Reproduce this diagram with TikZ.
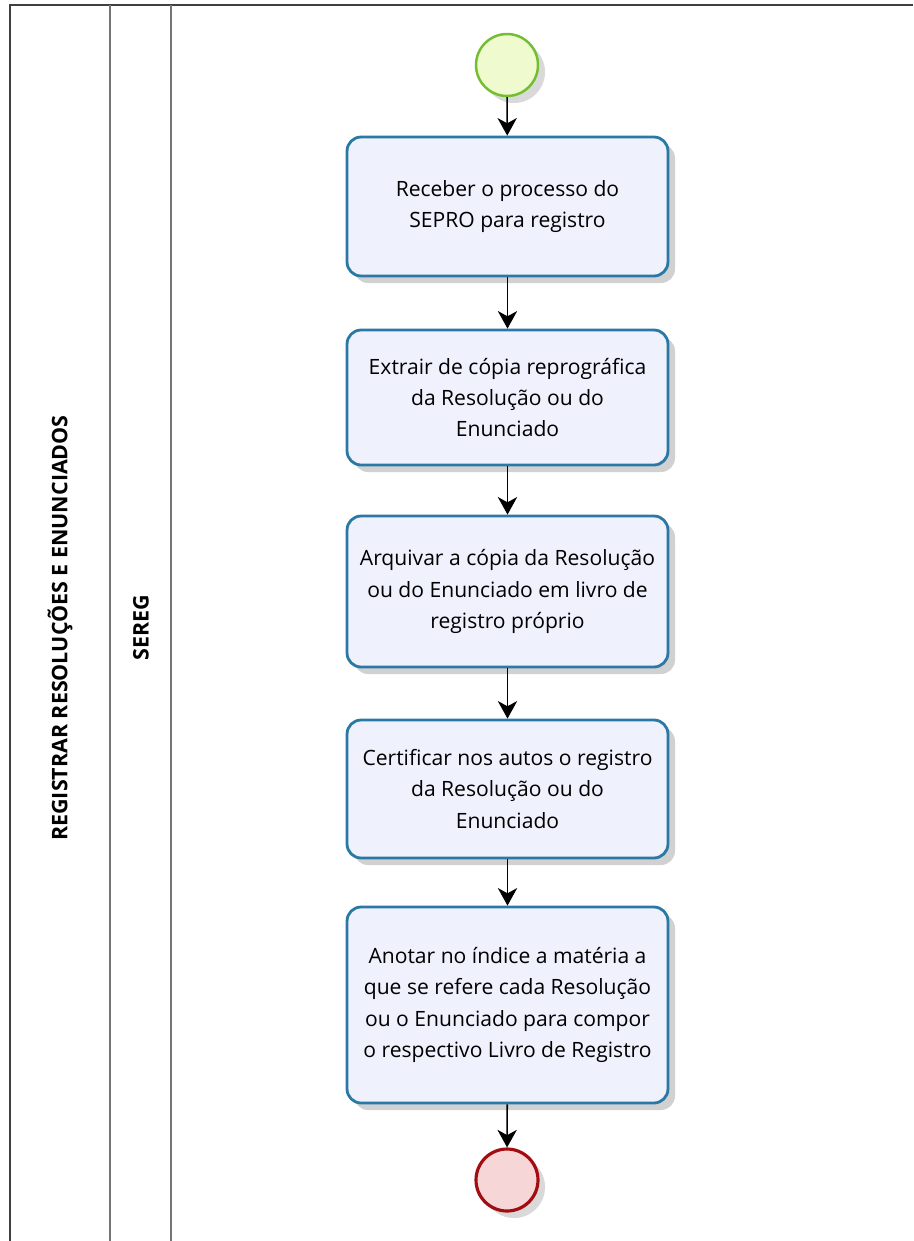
\documentclass[tikz,border=0pt]{standalone}
\usepackage{fontspec}
\setmainfont{Open Sans}
\usetikzlibrary{positioning, shapes.geometric, arrows.meta, shadows}

\definecolor{taskline}{HTML}{2A78A4}
\definecolor{taskfill}{HTML}{EFF1FC}
\definecolor{startline}{HTML}{72BE30}
\definecolor{startfill}{HTML}{EFFACF}
\definecolor{endline}{HTML}{A30C10}
\definecolor{endfill}{HTML}{F6D6D7}
\definecolor{laneline}{HTML}{757575}

\begin{document}
\begin{tikzpicture} [x=0.02cm, y=-0.02cm,
  lane/.style={draw=laneline, line width=1.1pt},
  lanelabel/.style={rotate=90, font=\fontsize{12.2}{14}\selectfont\bfseries},
  task/.style={draw=taskline, fill=taskfill, line width=1.6pt, rounded corners=0.28cm,
    minimum width=6.42cm, align=center, font=\fontsize{12}{17.8}\selectfont,
    drop shadow={shadow xshift=4pt, shadow yshift=-4pt, opacity=0.18, fill=black}},
  event/.style={circle, minimum size=1.24cm, inner sep=0pt,
    drop shadow={shadow xshift=4pt, shadow yshift=-4pt, opacity=0.15, fill=black}},
  flow/.style={-{Stealth[length=10pt, width=11pt, inset=3pt]}, line width=0.9pt}]
  \useasboundingbox (0,0) rectangle (913,1241);

  % pool and lane
  \draw[lane, draw=black!75] (10,1241) -- (10,5) -- (913,5);
  \draw[lane] (110,5) -- (110,1241);
  \draw[lane] (171,5) -- (171,1241);
  \node[lanelabel] (pool) at (60,628) {REGISTRAR RESOLUÇÕES E ENUNCIADOS};
  \node[lanelabel] (sereg) at (141,628) {SEREG};

  % events and tasks
  \node[event, draw=startline, fill=startfill, line width=1.4pt] (start) at (507,65) {};
  \node[task, minimum height=2.78cm] (receber) at (507.5,206.5) {Receber o processo do\\SEPRO para registro};
  \node[task, minimum height=2.70cm] (extrair) at (507.5,397.5) {Extrair de cópia reprográfica\\da Resolução ou do\\Enunciado};
  \node[task, minimum height=3.02cm] (arquivar) at (507.5,591.5) {Arquivar a cópia da Resolução\\ou do Enunciado em livro de\\registro próprio};
  \node[task, minimum height=2.76cm] (certificar) at (507.5,789) {Certificar nos autos o registro\\da Resolução ou do\\Enunciado};
  \node[task, minimum height=3.92cm] (anotar) at (507.5,1005) {Anotar no índice a matéria a\\que se refere cada Resolução\\ou o Enunciado para compor\\o respectivo Livro de Registro};
  \node[event, draw=endline, fill=endfill, line width=1.8pt] (end) at (507,1180) {};

  % sequence flows
  \draw[flow] (start) -- (receber);
  \draw[flow] (receber) -- (extrair);
  \draw[flow] (extrair) -- (arquivar);
  \draw[flow] (arquivar) -- (certificar);
  \draw[flow] (certificar) -- (anotar);
  \draw[flow] (anotar) -- (end);
\end{tikzpicture}
\end{document}
